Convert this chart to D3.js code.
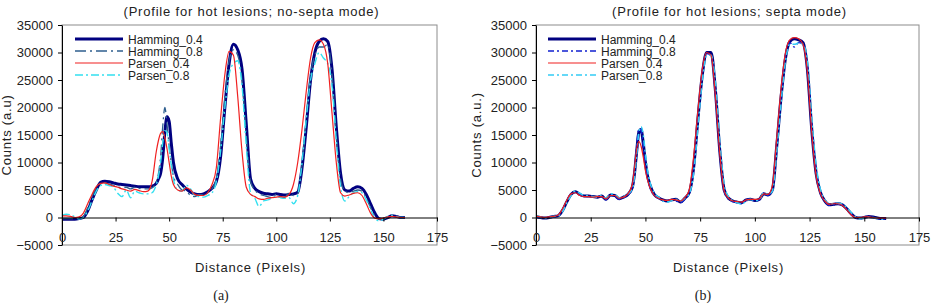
<!DOCTYPE html>
<html>
<head>
<meta charset="utf-8">
<script src="https://cdn.jsdelivr.net/npm/d3@7"></script>
<style>
  body { margin: 0; background: #fff; }
  svg { display: block; font-family: "Liberation Sans", Arial, sans-serif; }
</style>
</head>
<body>
<div id="chart"></div>
<script>
// distance grid (pixels) shared by every profile
var distance = [0,2,4,6,8,10,12,14,16,18,20,22,24,26,28,30,32,34,36,38,40,42,44,45,46,47,48,49,50,51,52,
  54,56,58,60,62,64,66,68,70,72,74,76,78,80,82,84,86,88,90,92,94,96,98,100,102,104,106,108,110,112,114,116,118,120,
  122,124,126,128,130,132,134,136,138,140,142,144,146,148,150,152,154,156,158,160];

// (a) no-septa mode
var noSeptaHamming04 = [-300,-300,-300,-300,-200,0,1200,3200,5000,6400,6600,6500,6300,6100,6000,5900,5800,5700,5600,5600,5600,5700,6200,7000,8000,10800,15500,18300,17500,13500,10000,
  7000,6000,5200,4600,4300,4200,4300,4700,5300,6500,11000,20000,28000,31500,30500,27000,17000,7000,5300,4700,4400,4300,4200,4300,4200,4100,4200,4300,4600,9000,16500,25000,30000,32000,
  32500,32000,27000,16500,8000,5000,4800,5300,5600,5300,4200,2500,800,-200,-300,0,300,200,0,0];
var noSeptaHamming08 = [-200,-200,-200,-200,-100,200,1800,3800,5400,6200,6300,6100,5900,5600,5400,5500,5200,5500,5300,5200,5200,5400,6500,8000,11000,16500,20000,17000,13000,10000,7500,
  6000,5000,4800,4000,3800,4200,4100,4500,5200,7000,13000,22000,28500,30500,29500,25000,15000,6500,5000,4300,4000,3800,3600,4200,3800,3700,4500,4000,4300,9500,18000,26000,29500,31000,
  31000,31500,26000,15000,7000,4800,4500,4800,5000,4800,3500,1800,300,-300,-200,100,200,100,0,0];
var noSeptaParsen04 = [300,300,200,0,100,800,2500,4200,5600,6200,6300,6000,5700,5500,5200,5000,4800,5100,4900,4700,4800,6500,12000,14000,15300,15600,14500,12500,10000,7500,6000,
  5000,4800,5400,5000,4200,4000,4000,4500,6000,9000,18000,26000,30200,29500,22000,12000,5500,4200,3800,3400,3300,3500,3600,3700,3800,3700,4200,6000,10000,16000,23000,29000,31800,32300,
  31500,28000,19000,10000,4500,3900,4100,4400,4500,4000,2500,800,-100,-200,-100,100,200,100,0,0];
var noSeptaParsen08 = [400,600,500,100,-300,0,1200,3000,4800,5800,6000,5800,5500,4400,3800,5000,3600,4800,4500,4300,4300,4500,6000,7500,10000,13500,15800,15500,12500,9500,7000,
  5000,4800,5900,5200,4000,3800,3700,4000,4500,6500,12000,20000,26000,28000,28500,24000,13000,4500,3500,2000,3000,3200,3500,3800,3600,3500,3600,2500,4000,10000,18000,25000,28000,30000,
  29000,28000,24000,14000,5500,3000,3800,4500,4700,4500,3200,1500,-200,-600,-300,200,400,200,0,0];

// (b) septa mode
var septaHamming04 = [200,0,-100,0,200,300,1200,2800,4200,4700,4200,3900,3900,3800,3700,3900,3300,4100,4000,3400,3700,4200,5500,8000,12000,15500,16000,13500,10000,7500,6000,
  4200,3600,3200,3000,3200,3300,2800,3500,4500,9000,18000,26000,30000,30000,23000,12000,5000,3500,3000,2800,2700,3200,3300,3100,3300,4300,4100,5000,13000,22000,29000,32000,32500,32300,
  31800,27000,16000,8000,4500,3000,2300,2400,2500,2300,1600,700,0,-100,0,200,100,-100,-200,-200];
var septaHamming08 = [100,-100,-100,0,100,300,1300,3000,4300,4600,4100,3800,3800,3700,3800,3700,3200,4200,3900,3300,3600,4100,5300,8500,13000,16200,15800,13000,9500,7000,5500,
  4000,3500,3000,3100,3300,3000,2700,3300,4300,9500,18500,26500,29800,29500,22500,11500,4800,3300,2900,2700,2500,3100,3400,3000,3200,4400,4000,5200,13500,22500,29500,31800,31000,31800,
  31500,27500,16500,8500,4300,2900,2200,2300,2400,2300,1500,600,-100,-200,0,100,0,-200,-300,-300];
var septaParsen04 = [300,100,0,100,200,400,1500,3100,4300,4500,4000,3800,3800,3700,3800,3800,3400,4000,4000,3500,3700,4300,6000,9000,12500,13800,13000,11000,8500,6800,5500,
  4000,3500,3200,3100,3300,3200,3000,3600,5000,11000,19500,27000,30000,29500,22000,11500,4800,3500,3000,2900,2800,3200,3300,3300,3400,4300,4200,5800,14500,23500,30000,32300,32700,32500,
  31500,26500,15500,7500,4300,3000,2400,2500,2500,2200,1400,500,0,0,100,100,0,-100,-100,-100];
var septaParsen08 = [300,100,-100,0,200,300,1000,2600,4000,4800,4400,4000,3900,3800,3700,4000,3500,4300,4200,3600,3800,4300,5200,7500,11500,15500,16500,15000,11500,8500,6500,
  4500,3700,3000,2800,3100,3300,3000,3500,4300,8000,16500,25000,29500,29500,24500,13500,6000,3700,3000,2700,2400,3000,3300,3100,3200,4500,4200,4800,12000,21000,28500,31500,31500,31700,
  31500,28500,18000,9500,5000,3200,2500,2500,2600,2400,1800,900,100,-200,-100,100,0,-200,-300,-300];

var seriesNames = ["Hamming_0.4", "Hamming_0.8", "Parsen_0.4", "Parsen_0.8"];
var xTicks = [0, 25, 50, 75, 100, 125, 150, 175];
var yTicks = [-5000, 0, 5000, 10000, 15000, 20000, 25000, 30000, 35000];

var W = 935, H = 304;
var svg = d3.select("#chart").append("svg").attr("width", W).attr("height", H);

var panels = [
  { left: 62, right: 437, title: "(Profile for hot lesions; no-septa mode)", ylabel: "Counts (a.u)", ylabelX: 11,
    caption: "(a)", captionX: 221, legendX: 75,
    values: [noSeptaHamming04, noSeptaHamming08, noSeptaParsen04, noSeptaParsen08],
    styles: [
      { color: "#000080", width: 3, dash: null },
      { color: "#2f5f8f", width: 1.3, dash: "11,4,2,4" },
      { color: "#f02020", width: 1.2, dash: null },
      { color: "#33e0f0", width: 1.4, dash: "8,3,2,3" }
    ] },
  { left: 536, right: 919, title: "(Profile for hot lesions; septa mode)", ylabel: "Counts (a.u.)", ylabelX: 481,
    caption: "(b)", captionX: 703, legendX: 548,
    values: [septaHamming04, septaHamming08, septaParsen04, septaParsen08],
    styles: [
      { color: "#000080", width: 3, dash: null },
      { color: "#1020d0", width: 1.4, dash: "6,3,2,3" },
      { color: "#f02020", width: 1.2, dash: null },
      { color: "#33ccf5", width: 1.6, dash: "6,3,2,3" }
    ] }
];

var plotTop = 25, plotBottom = 245;

panels.forEach(function (p, pi) {
  var x = d3.scaleLinear().domain([0, 175]).range([p.left, p.right]);
  var y = d3.scaleLinear().domain([-5000, 35000]).range([plotBottom, plotTop]);
  var g = svg.append("g");

  g.append("rect")
    .attr("x", p.left).attr("y", plotTop)
    .attr("width", p.right - p.left).attr("height", plotBottom - plotTop)
    .attr("fill", "none").attr("stroke", "#8c8c8c").attr("stroke-width", 1);

  var clipId = "clip" + pi;
  svg.append("clipPath").attr("id", clipId).append("rect")
    .attr("x", p.left).attr("y", plotTop).attr("width", p.right - p.left).attr("height", plotBottom - plotTop);

  var line = d3.line()
    .x(function (d, i) { return x(distance[i]); })
    .y(function (d) { return y(d); })
    .curve(d3.curveMonotoneX);

  // thick navy first, thin lines on top
  var order = [0, 1, 3, 2];
  order.forEach(function (k) {
    var s = p.styles[k];
    g.append("path")
      .datum(p.values[k])
      .attr("clip-path", "url(#" + clipId + ")")
      .attr("d", line)
      .attr("fill", "none")
      .attr("stroke", s.color)
      .attr("stroke-width", s.width)
      .attr("stroke-linejoin", "round")
      .attr("stroke-dasharray", s.dash);
  });

  // y axis
  var ya = g.append("g").attr("transform", "translate(" + p.left + ",0)")
    .call(d3.axisLeft(y).tickValues(yTicks).tickFormat(d3.format("d")).tickSize(4).tickSizeOuter(0).tickPadding(5));
  ya.selectAll("text").attr("font-size", 13).attr("fill", "#222").attr("font-family", "Liberation Sans, Arial, sans-serif");
  ya.selectAll("line,path").attr("stroke", "#000");

  // x axis through zero
  var xa = g.append("g").attr("transform", "translate(0," + y(0) + ")")
    .call(d3.axisBottom(x).tickValues(xTicks).tickSize(4).tickSizeOuter(0).tickPadding(11));
  xa.selectAll("text").attr("font-size", 13).attr("fill", "#222").attr("font-family", "Liberation Sans, Arial, sans-serif");
  xa.selectAll("line,path").attr("stroke", "#000");

  var cx = (p.left + p.right) / 2;
  g.append("text").attr("x", cx + 2).attr("y", 16)
    .attr("text-anchor", "middle").attr("font-size", 13).attr("letter-spacing", 0.8)
    .attr("fill", "#222").text(p.title);

  g.append("text").attr("x", cx + 1).attr("y", 272)
    .attr("text-anchor", "middle").attr("font-size", 13).attr("letter-spacing", 0.8)
    .attr("fill", "#222").text("Distance (Pixels)");

  g.append("text").attr("transform", "translate(" + p.ylabelX + "," + ((plotTop + plotBottom) / 2) + ") rotate(-90)")
    .attr("text-anchor", "middle").attr("font-size", 13).attr("letter-spacing", 0.8)
    .attr("fill", "#222").text(p.ylabel);

  g.append("text").attr("x", p.captionX).attr("y", 300)
    .attr("text-anchor", "middle").attr("font-size", 14)
    .attr("font-family", "Liberation Serif, Times New Roman, serif")
    .attr("fill", "#222").text(p.caption);

  // legend
  var leg = g.append("g");
  seriesNames.forEach(function (name, k) {
    var s = p.styles[k];
    var ly = 39 + k * 12;
    leg.append("line")
      .attr("x1", p.legendX).attr("x2", p.legendX + 48)
      .attr("y1", ly).attr("y2", ly)
      .attr("stroke", s.color).attr("stroke-width", s.width)
      .attr("stroke-dasharray", s.dash);
    leg.append("text").attr("x", p.legendX + 53).attr("y", ly + 4.5)
      .attr("font-size", 12).attr("fill", "#222").text(name);
  });
});
</script>
</body>
</html>
